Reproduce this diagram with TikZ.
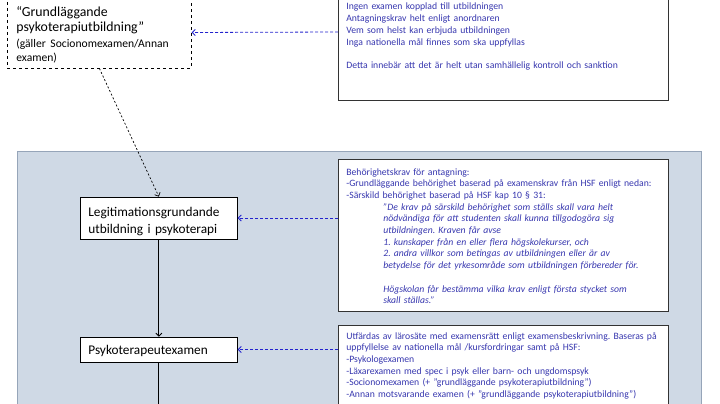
\documentclass[tikz,border=0pt]{standalone}
\usepackage{fontspec}
\setmainfont{Carlito}
\usetikzlibrary{arrows.meta,positioning}

\definecolor{reqblue}{RGB}{55,55,175}
\definecolor{linkblue}{RGB}{35,35,205}
\definecolor{zonefill}{RGB}{207,217,229}
\definecolor{zoneline}{RGB}{150,165,185}

\newcommand{\quoteln}[1]{\hspace*{37pt}\textit{#1}}
\frenchspacing

\tikzset{
  stepnode/.style={draw=black, fill=white, line width=0.7pt, align=left, anchor=base west,
    text width=141pt, inner xsep=8pt, inner ysep=0pt, font=\fontsize{13.3}{17.5}\selectfont},
  reqbox/.style={draw=black!80, fill=white, line width=0.7pt, anchor=base west, align=left,
    text width=314pt, inner xsep=8pt, inner ysep=0pt, text=reqblue,
    font=\fontsize{9.7}{11.7}\selectfont},
  reqlink/.style={draw=linkblue, dash pattern=on 3pt off 2pt, line width=0.8pt,
    -{Straight Barb[length=3pt,width=6pt]}},
  flow/.style={line width=0.8pt, -{Straight Barb[length=3pt,width=6pt]}},
}

\begin{document}
\begin{tikzpicture}[x=1pt, y=-1pt]
  \useasboundingbox (0,0) rectangle (720,404);
  \clip (0,0) rectangle (720,404);

  % shaded zone for the regulated route
  \filldraw[fill=zonefill, draw=zoneline, line width=0.8pt] (17,151) rectangle (701,440);

  % unregulated basic training
  \node[stepnode, dashed, text width=166pt, inner xsep=9pt, text height=20pt, text depth=51pt,
    font=\fontsize{13.8}{14.5}\selectfont] (gpu) at (7,17)
    {“Grundläggande\\ psykoterapiutbildning”\\[3.5pt]
     \fontsize{11.6}{12.5}\selectfont (gäller Socionomexamen/Annan\\ examen)};

  \node[reqbox, text height=46pt, text depth=90pt] (noreq) at (338,10)
    {Ingen examen kopplad till utbildningen\\
     Antagningskrav helt enligt anordnaren\\
     Vem som helst kan erbjuda utbildningen\\
     Inga nationella mål finnes som ska uppfyllas\\
     \mbox{}\\
     Detta innebär att det är helt utan samhällelig kontroll och sanktion};

  % regulated route
  \node[stepnode, text height=19pt, text depth=23pt] (legit) at (80,216)
    {Legitimationsgrundande\\ utbildning i psykoterapi};
  \node[stepnode, text height=17pt, text depth=8pt] (psyk) at (80,354)
    {Psykoterapeutexamen};

  \node[reqbox, text height=16pt, text depth=136pt] (behreq) at (338,175)
    {Behörighetskrav för antagning:\\
     -Grundläggande behörighet baserad på examenskrav från HSF enligt nedan:\\
     -Särskild behörighet baserad på HSF kap 10 § 31:\\
     \quoteln{"De krav på särskild behörighet som ställs skall vara helt}\\
     \quoteln{nödvändiga för att studenten skall kunna tillgodogöra sig}\\
     \quoteln{utbildningen. Kraven får avse}\\
     \quoteln{1. kunskaper från en eller flera högskolekurser, och}\\
     \quoteln{2. andra villkor som betingas av utbildningen eller är av}\\
     \quoteln{betydelse för det yrkesområde som utbildningen förbereder för.}\\
     \mbox{}\\
     \quoteln{Högskolan får bestämma vilka krav enligt första stycket som}\\
     \quoteln{skall ställas."}};

  \node[reqbox, text height=14pt, text depth=100pt] (examreq) at (338,339)
    {Utfärdas av lärosäte med examensrätt enligt examensbeskrivning. Baseras på\\
     uppfyllelse av nationella mål /kursfordringar samt på HSF:\\
     -Psykologexamen\\
     -Läxarexamen med spec i psyk eller barn- och ungdomspsyk\\
     -Socionomexamen (+ "grundläggande psykoterapiutbildning")\\
     -Annan motsvarande examen (+ "grundläggande psykoterapiutbildning")};

  \coordinate (psykout) at (psyk.south |- 0,440);

  % connectors
  \draw[flow, line width=0.7pt, dash pattern=on 2pt off 2pt] (gpu.south) -- (legit.north);
  \draw[flow] (legit.south) -- (psyk.north);
  \draw[line width=0.8pt] (psyk.south) -- (psykout);
  \draw[reqlink] (noreq.west) -- (gpu.east);
  \draw[reqlink] (legit.east -| behreq.west) -- (legit.east);
  \draw[reqlink] (psyk.east -| examreq.west) -- (psyk.east);
\end{tikzpicture}
\end{document}
